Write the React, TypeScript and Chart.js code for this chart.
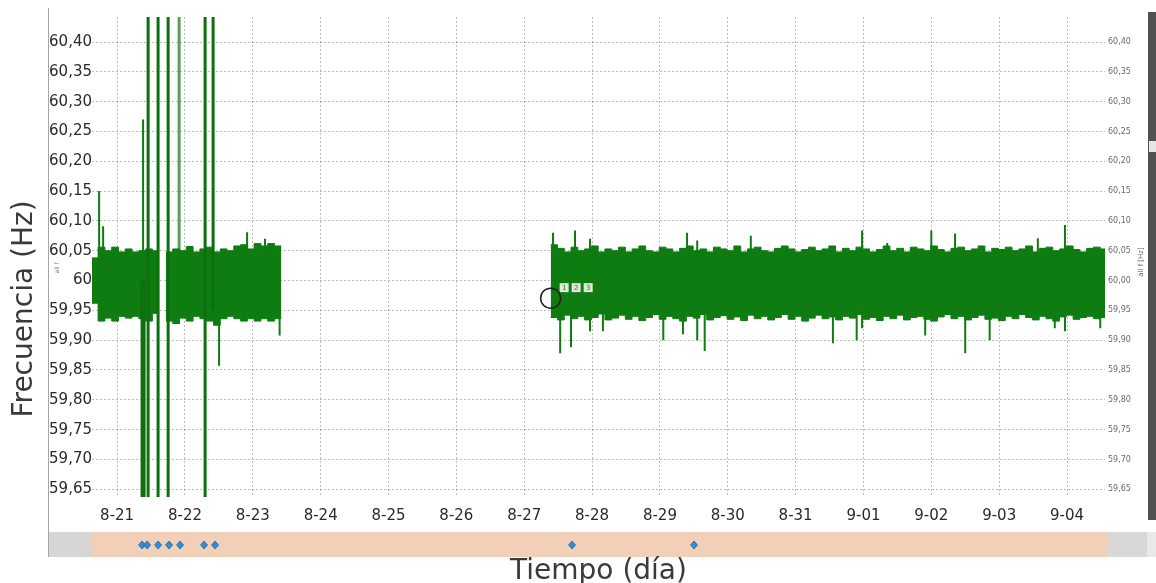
import React, { useEffect, useRef } from 'react';
import { Chart, registerables } from 'chart.js';

Chart.register(...registerables);

// ---------- data ----------
const DAY_LABELS = ['8-21', '8-22', '8-23', '8-24', '8-25', '8-26', '8-27', '8-28', '8-29', '8-30', '8-31', '9-01', '9-02', '9-03', '9-04'];
const Y_TICKS = [59.65, 59.7, 59.75, 59.8, 59.85, 59.9, 59.95, 60, 60.05, 60.1, 60.15, 60.2, 60.25, 60.3, 60.35, 60.4];

const X_MIN = -0.37;
const X_MAX = 14.56;
const Y_MIN = 59.637;
const Y_MAX = 60.442;

const BIN_DAYS = 0.1;

const block1Start = -0.38;
const block1Upper = [60.038, 60.056, 60.05, 60.056, 60.048, 60.053, 60.048, 60.05, 60.053, 60.05, null, 60.048, 60.053, 60.05, 60.057, 60.048, 60.053, 60.056, 60.048, 60.053, 60.05, 60.058, 60.06, 60.053, 60.062, 60.058, 60.062, 60.058];
const block1Lower = [59.962, 59.932, 59.937, 59.932, 59.94, 59.937, 59.94, 59.936, 59.932, 59.945, null, 59.932, 59.928, 59.937, 59.932, 59.94, 59.936, 59.932, 59.925, 59.936, 59.94, 59.936, 59.932, 59.936, 59.932, 59.936, 59.932, 59.936];

const block2Start = 6.39;
const block2Upper = [
  60.06, 60.054, 60.048, 60.056, 60.05, 60.053, 60.058, 60.048, 60.053, 60.05,
  60.056, 60.048, 60.053, 60.058, 60.05, 60.048, 60.056, 60.053, 60.048, 60.054,
  60.058, 60.05, 60.053, 60.048, 60.056, 60.053, 60.05, 60.058, 60.048, 60.053,
  60.056, 60.05, 60.048, 60.054, 60.058, 60.053, 60.048, 60.052, 60.056, 60.05,
  60.053, 60.058, 60.048, 60.054, 60.05, 60.056, 60.053, 60.048, 60.052, 60.058,
  60.05, 60.054, 60.048, 60.056, 60.053, 60.05, 60.058, 60.052, 60.048, 60.054,
  60.056, 60.05, 60.053, 60.058, 60.048, 60.054, 60.052, 60.056, 60.05, 60.053,
  60.058, 60.048, 60.054, 60.056, 60.05, 60.053, 60.058, 60.052, 60.048, 60.054,
  60.056, 60.053,
];
const block2Lower = [
  59.938, 59.934, 59.942, 59.936, 59.94, 59.934, 59.938, 59.944, 59.934, 59.937,
  59.942, 59.935, 59.94, 59.933, 59.938, 59.943, 59.935, 59.94, 59.936, 59.932,
  59.94, 59.937, 59.943, 59.934, 59.938, 59.941, 59.935, 59.939, 59.933, 59.942,
  59.936, 59.94, 59.934, 59.938, 59.943, 59.935, 59.94, 59.932, 59.937, 59.942,
  59.936, 59.939, 59.934, 59.94, 59.937, 59.943, 59.935, 59.938, 59.933, 59.94,
  59.936, 59.942, 59.934, 59.938, 59.94, 59.935, 59.932, 59.939, 59.943, 59.936,
  59.94, 59.934, 59.938, 59.942, 59.935, 59.937, 59.933, 59.94, 59.936, 59.943,
  59.938, 59.934, 59.94, 59.936, 59.932, 59.939, 59.942, 59.935, 59.938, 59.94,
  59.936, 59.938,
];

// tall excursions (day, low, high)
const tallSpikeDays = [0.368, 0.398, 0.457, 0.604, 0.752, 1.297, 1.415];
const tallSpikeLow = [59.5, 59.5, 59.5, 59.5, 59.5, 59.5, 59.95];
const tallSpikeHigh = [60.0, 60.0, 60.6, 60.6, 60.6, 60.6, 60.6];
const faintSpikeDays = [0.914];
const faintSpikeLow = [59.95];
const faintSpikeHigh = [60.6];

// short excursions (day, low, high)
const spikeDays = [-0.265, -0.206, 0.383, 1.503, 1.916, 2.18, 2.395, 6.425, 6.53, 6.69, 6.749, 6.97, 7.16, 8.05, 8.34, 8.4, 8.55, 8.66, 9.34, 10.55, 10.9, 10.98, 11.35, 11.91, 12.0, 12.35, 12.5, 12.86, 13.57, 13.82, 13.97, 14.49];
const spikeLow = [59.97, 59.97, 59.99, 59.857, 60.0, 60.0, 59.908, 60.0, 59.878, 59.888, 60.0, 59.915, 59.915, 59.9, 59.91, 60.0, 59.9, 59.882, 60.0, 59.895, 59.9, 59.92, 60.0, 59.908, 60.0, 60.0, 59.878, 59.9, 60.0, 59.92, 59.915, 59.92];
const spikeHigh = [60.15, 60.091, 60.27, 60.0, 60.081, 60.07, 60.0, 60.08, 60.0, 60.0, 60.084, 60.07, 60.0, 60.0, 60.0, 60.08, 60.067, 60.0, 60.075, 60.0, 60.0, 60.084, 60.063, 60.0, 60.084, 60.079, 60.0, 60.0, 60.071, 60.0, 60.093, 60.0];

const eventDays = [0.368, 0.442, 0.604, 0.766, 0.928, 1.282, 1.444, 6.705, 8.503];
const markerDays = [6.39];
const markerValues = [59.9705];
const markerBoxLabels = ['1', '2', '3'];

// ---------- helpers ----------
type Pt = { x: number; y: number | null };

function envelope(start: number, vals: (number | null)[]): Pt[] {
  const pts: Pt[] = [];
  vals.forEach((v, i) => {
    const x = start + i * BIN_DAYS;
    if (v === null) {
      if (i > 0 && vals[i - 1] !== null) pts.push({ x, y: vals[i - 1] as number });
      pts.push({ x, y: null });
    } else {
      pts.push({ x, y: v });
    }
  });
  const end = start + vals.length * BIN_DAYS;
  pts.push({ x: end, y: vals[vals.length - 1] });
  pts.push({ x: end, y: null });
  return pts;
}

function segments(days: number[], lows: number[], highs: number[]): Pt[] {
  const pts: Pt[] = [];
  days.forEach((d, i) => {
    pts.push({ x: d, y: lows[i] });
    pts.push({ x: d, y: highs[i] });
    pts.push({ x: d, y: null });
  });
  return pts;
}

const fmt = (v: number) => v.toFixed(2).replace('.', ',');

const GREEN = '#0e7c10';
const GRID = 'rgba(0,0,0,0.26)';

const decorPlugin = {
  id: 'decor',
  beforeDraw(chart: any) {
    const { ctx, chartArea, scales } = chart;
    const xs = scales.x;
    ctx.save();
    // overview strip
    const bandTop = 532;
    const bandH = 25;
    ctx.fillStyle = '#d6d6d6';
    ctx.fillRect(48, bandTop, chartArea.left - 48, bandH);
    ctx.fillStyle = '#f2cfb7';
    ctx.fillRect(chartArea.left, bandTop, chartArea.right + 3 - chartArea.left, bandH);
    ctx.fillStyle = '#d8d8d8';
    ctx.fillRect(chartArea.right + 3, bandTop, 1147 - (chartArea.right + 3), bandH);
    ctx.fillStyle = '#e9e9e9';
    ctx.fillRect(1147, bandTop, 9, bandH);

    // frame line
    ctx.strokeStyle = '#a5a5a5';
    ctx.lineWidth = 1;
    ctx.beginPath();
    ctx.moveTo(48.5, 8);
    ctx.lineTo(48.5, bandTop + bandH);
    ctx.stroke();

    // scrollbar
    ctx.fillStyle = '#525252';
    ctx.fillRect(1148, 12, 8, 508);
    ctx.fillStyle = '#e6e6e6';
    ctx.fillRect(1149, 141, 7, 11);

    // event diamonds
    eventDays.forEach((d) => {
      const px = xs.getPixelForValue(d);
      const py = bandTop + 13;
      ctx.beginPath();
      ctx.moveTo(px, py - 4);
      ctx.lineTo(px + 3.5, py);
      ctx.lineTo(px, py + 4);
      ctx.lineTo(px - 3.5, py);
      ctx.closePath();
      ctx.fillStyle = '#2f8ed6';
      ctx.fill();
      ctx.strokeStyle = '#1d6aa8';
      ctx.lineWidth = 0.8;
      ctx.stroke();
    });
    ctx.restore();
  },
  afterDraw(chart: any) {
    const { ctx, scales } = chart;
    const xs = scales.x;
    const ys = scales.y;
    ctx.save();
    // marker boxes near the circle marker
    const mx = xs.getPixelForValue(markerDays[0]);
    const my = ys.getPixelForValue(markerValues[0]);
    markerBoxLabels.forEach((t, i) => {
      const bx = mx + 9 + i * 12;
      const by = my - 15;
      ctx.fillStyle = '#dfe9da';
      ctx.fillRect(bx, by, 9, 9);
      ctx.fillStyle = '#2d7a2d';
      ctx.font = '7px "DejaVu Sans"';
      ctx.textAlign = 'center';
      ctx.textBaseline = 'middle';
      ctx.fillText(t, bx + 4.5, by + 5);
    });

    // left axis title
    ctx.fillStyle = '#3a3a3a';
    ctx.font = '28px "DejaVu Sans"';
    ctx.textAlign = 'center';
    ctx.textBaseline = 'middle';
    ctx.translate(25, 309);
    ctx.rotate(-Math.PI / 2);
    ctx.fillText('Frecuencia (Hz)', 0, 0);
    ctx.restore();

    // small inner axis captions
    ctx.save();
    ctx.fillStyle = '#777';
    ctx.font = '6px "DejaVu Sans"';
    ctx.textAlign = 'center';
    ctx.textBaseline = 'middle';
    ctx.translate(57, 268);
    ctx.rotate(-Math.PI / 2);
    ctx.fillText('all f', 0, 0);
    ctx.restore();

    ctx.save();
    ctx.fillStyle = '#666';
    ctx.font = '7px "DejaVu Sans"';
    ctx.textAlign = 'center';
    ctx.textBaseline = 'middle';
    ctx.translate(1141, 262);
    ctx.rotate(-Math.PI / 2);
    ctx.fillText('all f [Hz]', 0, 0);
    ctx.restore();
  },
};

export default function App() {
  const canvasRef = useRef<HTMLCanvasElement | null>(null);

  useEffect(() => {
    if (!canvasRef.current) return;
    const upper = envelope(block1Start, block1Upper).concat(envelope(block2Start, block2Upper));
    const lower = envelope(block1Start, block1Lower).concat(envelope(block2Start, block2Lower));

    const chart = new Chart(canvasRef.current, {
      type: 'line',
      data: {
        datasets: [
          {
            label: 'max',
            data: upper as any,
            borderColor: GREEN,
            backgroundColor: GREEN,
            borderWidth: 1,
            pointRadius: 0,
            stepped: true,
            fill: '+1',
            spanGaps: false,
            order: 3,
          },
          {
            label: 'min',
            data: lower as any,
            borderColor: GREEN,
            backgroundColor: GREEN,
            borderWidth: 1,
            pointRadius: 0,
            stepped: true,
            fill: false,
            spanGaps: false,
            order: 3,
          },
          {
            label: 'spikes',
            data: segments(spikeDays, spikeLow, spikeHigh) as any,
            borderColor: GREEN,
            borderWidth: 2,
            pointRadius: 0,
            spanGaps: false,
            order: 2,
          },
          {
            label: 'tall',
            data: segments(tallSpikeDays, tallSpikeLow, tallSpikeHigh) as any,
            borderColor: '#0b700d',
            borderWidth: 3,
            pointRadius: 0,
            spanGaps: false,
            order: 1,
          },
          {
            label: 'faint',
            data: segments(faintSpikeDays, faintSpikeLow, faintSpikeHigh) as any,
            borderColor: '#5a9e5a',
            borderWidth: 3,
            pointRadius: 0,
            spanGaps: false,
            order: 4,
          },
          {
            label: 'marker',
            data: markerDays.map((d, i) => ({ x: d, y: markerValues[i] })) as any,
            showLine: false,
            pointRadius: 10,
            pointBorderWidth: 1.5,
            pointBorderColor: '#222',
            pointBackgroundColor: 'rgba(0,0,0,0)',
            order: 0,
          },
        ],
      },
      options: {
        animation: false,
        responsive: false,
        layout: { padding: { top: 17, left: 0, right: 0, bottom: 0 } },
        plugins: { legend: { display: false }, tooltip: { enabled: false } },
        scales: {
          x: {
            type: 'linear',
            min: X_MIN,
            max: X_MAX,
            afterBuildTicks: (axis: any) => {
              axis.ticks = DAY_LABELS.map((_, i) => ({ value: i }));
            },
            afterFit: (scale: any) => {
              scale.height = 86;
            },
            ticks: {
              autoSkip: false,
              maxRotation: 0,
              padding: 10,
              color: '#2a2a2a',
              font: { family: 'DejaVu Sans', size: 15 },
              callback: (_v: any, i: number) => DAY_LABELS[i],
            },
            grid: { color: GRID, drawTicks: false, lineWidth: 1 },
            border: { display: false, dash: [2, 2] },
            title: {
              display: true,
              text: 'Tiempo (día)',
              color: '#3a3a3a',
              font: { family: 'DejaVu Sans', size: 28, lineHeight: 0.8 },
              padding: { top: 0, bottom: 0 },
            },
          },
          y: {
            type: 'linear',
            position: 'left',
            min: Y_MIN,
            max: Y_MAX,
            afterBuildTicks: (axis: any) => {
              axis.ticks = Y_TICKS.map((v) => ({ value: v }));
            },
            afterFit: (scale: any) => {
              scale.width = 92;
            },
            ticks: {
              autoSkip: false,
              padding: 0,
              color: '#2a2a2a',
              font: { family: 'DejaVu Sans', size: 15 },
              callback: (v: any) => (Math.abs(v - 60) < 1e-9 ? '60' : fmt(v)),
            },
            grid: { color: GRID, drawTicks: false, lineWidth: 1 },
            border: { display: false, dash: [2, 2] },
          },
          y2: {
            type: 'linear',
            position: 'right',
            min: Y_MIN,
            max: Y_MAX,
            afterBuildTicks: (axis: any) => {
              axis.ticks = Y_TICKS.map((v) => ({ value: v }));
            },
            afterFit: (scale: any) => {
              scale.width = 51;
            },
            ticks: {
              autoSkip: false,
              padding: 3,
              color: '#6a6a6a',
              font: { family: 'DejaVu Sans', size: 8 },
              callback: (v: any) => fmt(v),
            },
            grid: { display: false, drawTicks: false },
            border: { display: false },
          },
        },
      },
      plugins: [decorPlugin],
    } as any);
    return () => chart.destroy();
  }, []);

  return (
    <div style={{ position: 'absolute', left: 0, top: 0, width: 1156, height: 583, background: '#fff' }}>
      <canvas ref={canvasRef} width={1156} height={583} style={{ display: 'block' }} />
    </div>
  );
}
